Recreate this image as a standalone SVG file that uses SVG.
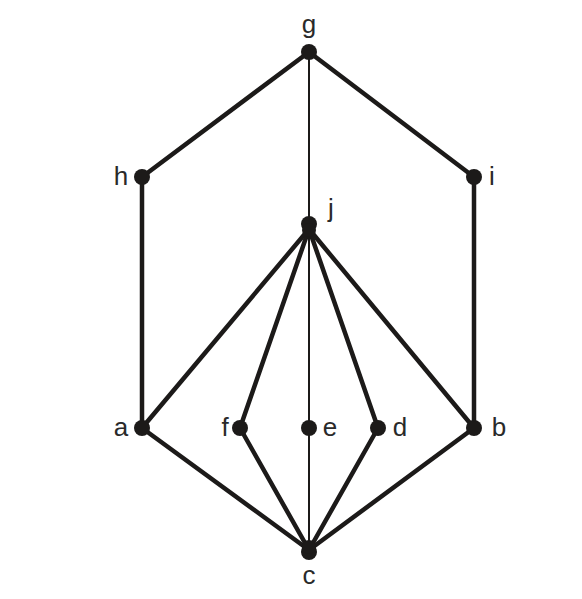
<svg xmlns="http://www.w3.org/2000/svg" width="582" height="599" viewBox="0 0 582 599">
<style>
.e{stroke:#1c1a19;stroke-width:4.5;stroke-linecap:round;fill:none}
.t{stroke:#1c1a19;stroke-width:2;fill:none}
.n{fill:#1c1a19}
text{font-family:"Liberation Sans",Arial,sans-serif;font-size:26px;fill:#2a2a2a}
</style>
<rect width="582" height="599" fill="#fff"/>
<g id="connectors">
<line class="e" x1="309" y1="52" x2="142" y2="177"/>
<line class="e" x1="309" y1="52" x2="474" y2="177"/>
<line class="t" x1="309" y1="52" x2="309" y2="552"/>
<line class="e" x1="142" y1="177" x2="142" y2="428"/>
<line class="e" x1="474" y1="177" x2="474" y2="428"/>
<line class="e" x1="309" y1="229" x2="142" y2="428"/>
<line class="e" x1="309" y1="229" x2="240" y2="428"/>
<line class="e" x1="309" y1="229" x2="378" y2="428"/>
<line class="e" x1="309" y1="229" x2="474" y2="428"/>
<line class="e" x1="142" y1="428" x2="309" y2="550"/>
<line class="e" x1="240" y1="428" x2="309" y2="550"/>
<line class="e" x1="378" y1="428" x2="309" y2="550"/>
<line class="e" x1="474" y1="428" x2="309" y2="550"/>
</g>
<g id="g"><circle class="n" cx="309" cy="52" r="8"/><text x="309" y="33" text-anchor="middle">g</text></g>
<g id="h"><circle class="n" cx="142" cy="177" r="8"/><text x="121" y="185" text-anchor="middle">h</text></g>
<g id="i"><circle class="n" cx="474" cy="177" r="8"/><text x="492" y="185" text-anchor="middle">i</text></g>
<g id="j"><circle class="n" cx="309" cy="224" r="8"/><circle class="n" cx="309" cy="230" r="7"/><text x="331" y="217" text-anchor="middle">j</text></g>
<g id="a"><circle class="n" cx="142" cy="428" r="8"/><text x="121" y="436" text-anchor="middle">a</text></g>
<g id="f"><circle class="n" cx="240" cy="428" r="8"/><text x="225" y="436" text-anchor="middle">f</text></g>
<g id="e"><circle class="n" cx="309" cy="428" r="8"/><text x="330" y="436" text-anchor="middle">e</text></g>
<g id="d"><circle class="n" cx="378" cy="428" r="8"/><text x="400" y="436" text-anchor="middle">d</text></g>
<g id="b"><circle class="n" cx="474" cy="428" r="8"/><text x="499" y="436" text-anchor="middle">b</text></g>
<g id="c"><circle class="n" cx="309" cy="552" r="8"/><circle class="n" cx="309" cy="547" r="7"/><text x="309" y="584" text-anchor="middle">c</text></g>
</svg>
